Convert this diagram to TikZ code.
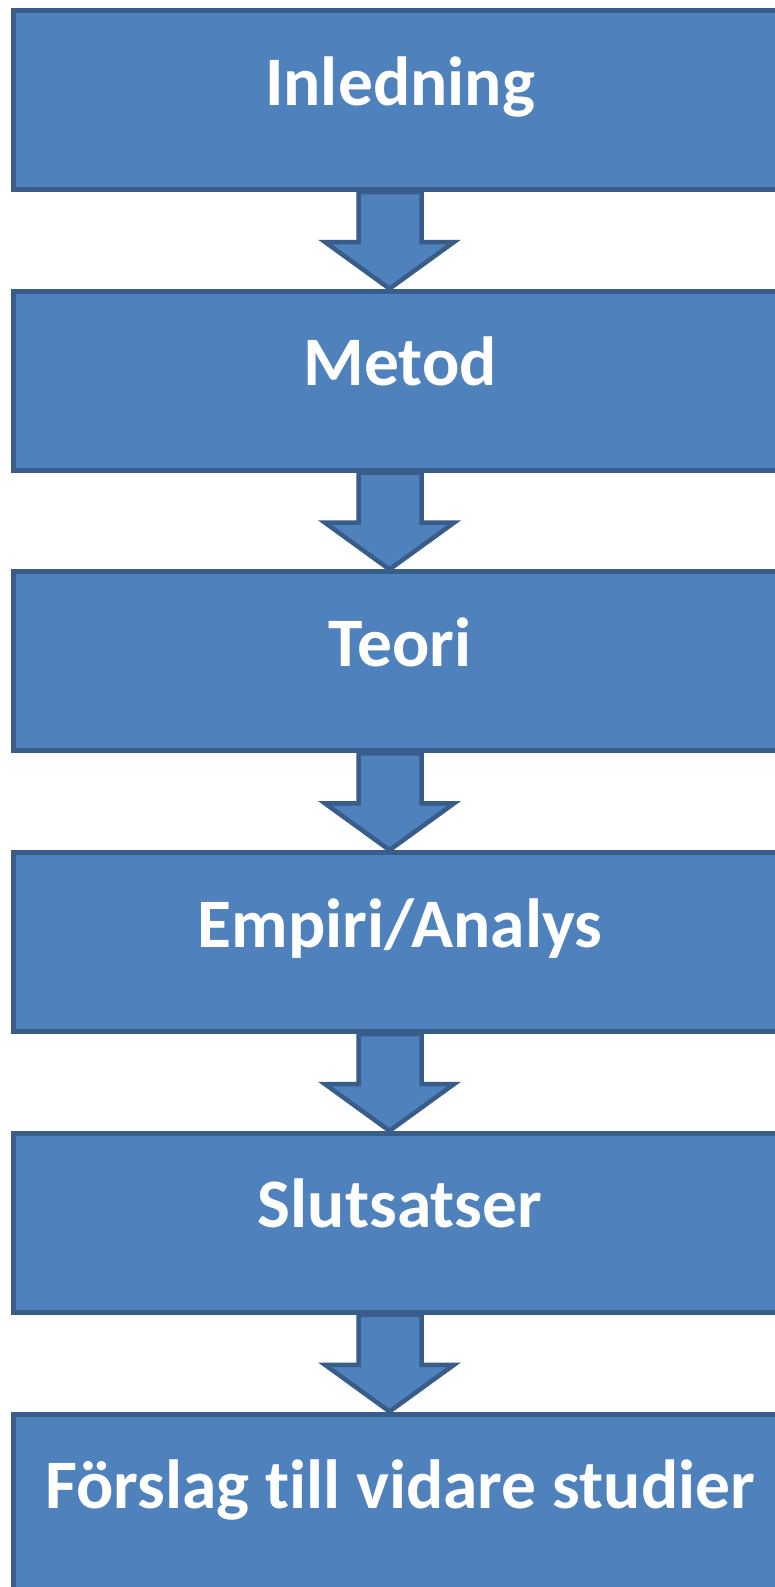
\documentclass[tikz,border=0pt]{standalone}
\usepackage{fontspec}
\setmainfont{Carlito}[Ligatures={NoCommon}]
\usetikzlibrary{calc}
\definecolor{boxfill}{HTML}{4F81BD}
\definecolor{boxline}{HTML}{385D8A}
\tikzset{
  stage/.style={rectangle, draw=boxline, fill=boxfill, line width=5pt,
    minimum width=773pt, minimum height=179pt, inner sep=0pt},
  stagetext/.style={anchor=base, inner sep=0pt, text=white,
    font=\fontsize{69.5}{83}\selectfont\bfseries},
  flowarrow/.style={draw=boxline, fill=boxfill, line width=4.5pt, line join=miter}
}
\newcommand{\downarrowshape}[2]{%
  \draw[flowarrow] ($(#1.south)+(-41.5pt,0)$) -- ($(#1.south)+(-41.5pt,-50pt)$)
    -- ($(#1.south)+(-75pt,-50pt)$) -- ($(#2.north)+(-10.5pt,0)$)
    -- ($(#1.south)+(54pt,-50pt)$) -- ($(#1.south)+(21.5pt,-50pt)$)
    -- ($(#1.south)+(21.5pt,0)$) -- cycle;}
\begin{document}
\begin{tikzpicture}[x=1pt,y=1pt]
\useasboundingbox (0,0) rectangle (775,-1587);
\clip (0,0) rectangle (775,-1587);
\fill[white] (0,0) rectangle (775,-1587);
% the six stages, one every 280.7pt
\node[stage] (b1) at (400,-100) {};
\node[stage] (b2) at (400,-380.7) {};
\node[stage] (b3) at (400,-661.4) {};
\node[stage] (b4) at (400,-942.1) {};
\node[stage] (b5) at (400,-1222.8) {};
\node[stage] (b6) at (400,-1503.5) {};
% block arrows between consecutive stages
\downarrowshape{b1}{b2}
\downarrowshape{b2}{b3}
\downarrowshape{b3}{b4}
\downarrowshape{b4}{b5}
\downarrowshape{b5}{b6}
% labels, baseline a little below each box centre
\node[stagetext] (t1) at ($(b1.center)+(0,-5)$) {Inledning};
\node[stagetext] (t2) at ($(b2.center)+(0,-5)$) {Metod};
\node[stagetext] (t3) at ($(b3.center)+(0,-5)$) {Teori};
\node[stagetext] (t4) at ($(b4.center)+(0,-5)$) {Empiri/Analys};
\node[stagetext] (t5) at ($(b5.center)+(0,-5)$) {Slutsatser};
\node[stagetext] (t6) at ($(b6.center)+(0,-5)$) {Förslag till vidare studier};
\end{tikzpicture}
\end{document}
